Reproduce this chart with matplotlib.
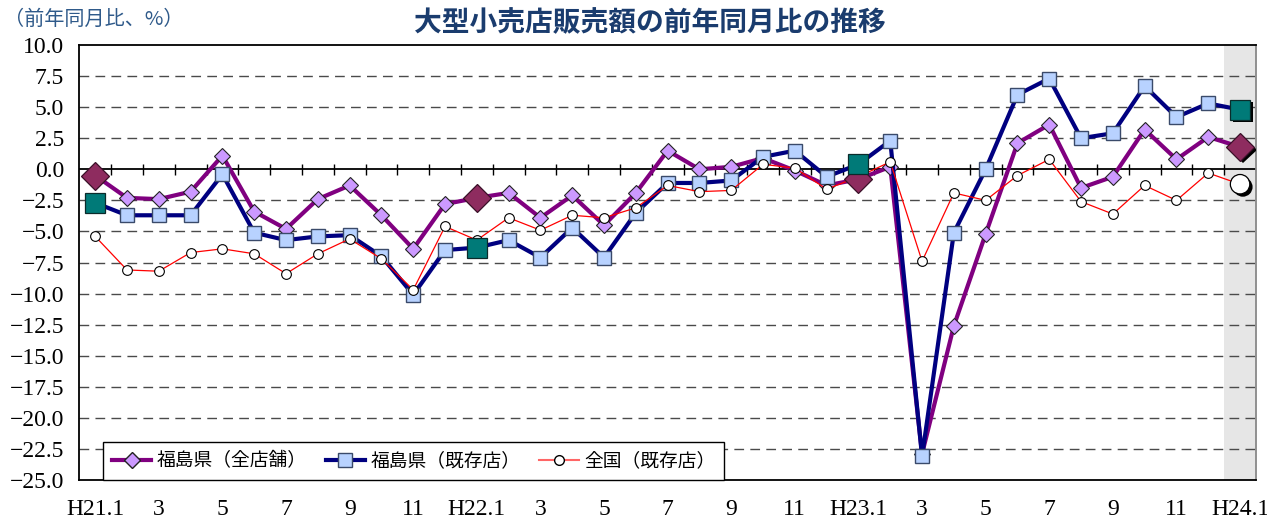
import numpy as np
import matplotlib
matplotlib.use("Agg")
import matplotlib.pyplot as plt
import matplotlib.patheffects as pe
from matplotlib.lines import Line2D

plt.rcParams['font.family'] = ['Noto Sans CJK JP', 'DejaVu Sans']

tick_labels = ["H21.1", "", "3", "", "5", "", "7", "", "9", "", "11", "",
               "H22.1", "", "3", "", "5", "", "7", "", "9", "", "11", "",
               "H23.1", "", "3", "", "5", "", "7", "", "9", "", "11", "",
               "H24.1"]

fukushima_all = [-0.5, -2.3, -2.4, -1.8, 1.1, -3.4, -4.8, -2.4, -1.3, -3.7, -6.4, -2.8,
                 -2.3, -1.9, -3.9, -2.1, -4.5, -1.9, 1.5, 0.0, 0.2, 0.9, -0.1, -1.3,
                 -0.8, 0.2, -22.9, -12.6, -5.2, 2.1, 3.6, -1.5, -0.6, 3.2, 0.8, 2.6,
                 1.8]
fukushima_exist = [-2.7, -3.7, -3.7, -3.7, -0.4, -5.1, -5.7, -5.4, -5.3, -7.0, -10.1, -6.5,
                   -6.3, -5.7, -7.1, -4.7, -7.1, -3.5, -1.1, -1.1, -0.9, 1.0, 1.5, -0.6,
                   0.4, 2.3, -23.1, -5.1, 0.0, 6.0, 7.3, 2.5, 2.9, 6.7, 4.2, 5.3,
                   4.8]
national_exist = [-5.4, -8.1, -8.2, -6.7, -6.4, -6.8, -8.4, -6.8, -5.6, -7.2, -9.7, -4.6,
                  -5.7, -3.9, -4.9, -3.7, -3.9, -3.1, -1.3, -1.8, -1.7, 0.4, 0.1, -1.6,
                  -0.6, 0.6, -7.4, -1.9, -2.5, -0.5, 0.8, -2.6, -3.6, -1.3, -2.5, -0.3,
                  -1.2]

series_names = ["福島県（全店舗）", "福島県（既存店）", "全国（既存店）"]
title = "大型小売店販売額の前年同月比の推移"
unit_label = "（前年同月比、%）"

n = len(tick_labels)
x = np.arange(n)
jan = [i for i, t in enumerate(tick_labels) if t.startswith("H")]

fig = plt.figure(figsize=(12.67, 5.21), dpi=100)
ax = fig.add_axes([0.0626, 0.0787, 0.9287, 0.8349])

ax.set_xlim(-0.5, n - 0.5)
ax.set_ylim(-25, 10)

# shaded latest month
ax.axvspan(n - 1.5, n - 0.5, color='#E6E6E6', zorder=0, lw=0)

# grid
yt = np.arange(-25, 10.01, 2.5)
for v in yt:
    if abs(v) > 1e-9 and v > -25 and v < 10:
        ax.axhline(v, color='#4a4a4a', lw=1.0, dashes=(7, 4.5), zorder=1)
ax.axhline(0, color='black', lw=1.3, zorder=2)
ax.vlines(np.arange(0.5, n - 1, 1.0), -0.45, 0.45, color='black', lw=1.0, zorder=2)

purple = '#800080'
lav = '#CC99FF'
navy = '#000080'
lblue = '#B8D2FF'
maroon = '#8E2C5F'
teal = '#007A78'

ax.plot(x, fukushima_all, color=purple, lw=3.0, marker='D', ms=8.5,
        mfc=lav, mec='#222222', mew=0.8, zorder=4)
ax.plot(x, fukushima_exist, color=navy, lw=3.0, marker='s', ms=9.5,
        mfc=lblue, mec='#3a4a6a', mew=1.0, zorder=5)
ax.plot(x, national_exist, color='#FF0000', lw=0.9, marker='o', ms=7,
        mfc='white', mec='black', mew=0.8, zorder=6)

# highlighted January markers
fa = np.array(fukushima_all)
fe = np.array(fukushima_exist)
ne = np.array(national_exist)
shadow = [pe.withSimplePatchShadow(offset=(2, -2), shadow_rgbFace='black', alpha=1.0)]
for i in jan:
    eff = shadow if i == n - 1 else []
    ax.plot([x[i]], [fa[i]], ls='none', marker='D', ms=14, mfc=maroon,
            mec='#3a1028', mew=0.9, zorder=7, path_effects=eff)
    ax.plot([x[i]], [fe[i]], ls='none', marker='s', ms=14.5, mfc=teal,
            mec='#0b2b2b', mew=0.9, zorder=7, path_effects=eff)
ax.plot([x[n - 1]], [ne[n - 1]], ls='none', marker='o', ms=14, mfc='white',
        mec='black', mew=0.9, zorder=8, path_effects=shadow)

# axes styling
for s in ['left', 'bottom', 'top']:
    ax.spines[s].set_color('black')
    ax.spines[s].set_linewidth(1.3)
ax.spines['right'].set_color('#888888')
ax.spines['right'].set_linewidth(1.3)

serif = ['Liberation Serif', 'DejaVu Serif']
ax.set_yticks(yt)
ax.set_yticklabels([f"{v:.1f}".replace("-", "−") for v in yt], family=serif, fontsize=17)
ax.set_xticks(x)
ax.set_xticklabels(tick_labels, family=serif, fontsize=17)
ax.tick_params(axis='y', length=0, pad=11)
ax.tick_params(axis='x', length=0, pad=14)

handles = [
    Line2D([], [], color=purple, lw=3, marker='D', ms=8.5, mfc=lav, mec='#222222'),
    Line2D([], [], color=navy, lw=3, marker='s', ms=9.5, mfc=lblue, mec='#3a4a6a'),
    Line2D([], [], color='#FF6666', lw=1.5, marker='o', ms=7, mfc='white', mec='black'),
]
leg = ax.legend(handles, series_names, loc='lower left', bbox_to_anchor=(0.0205, 0.0),
                ncol=3, fontsize=13.5, frameon=True, fancybox=False, framealpha=1,
                edgecolor='black', borderpad=0.45, handlelength=2.1, columnspacing=1.0,
                handletextpad=0.3, borderaxespad=0)
leg.get_frame().set_linewidth(1.0)
leg.set_zorder(10)

fig.text(0.513, 0.955, title, ha='center', va='center', fontsize=20, fontweight='bold',
         color='#1A3C6E')
fig.text(0.003, 0.962, unit_label, ha='left', va='center', fontsize=14.5, color='#2F5A8A')

fig.savefig("out.png", dpi=100)
